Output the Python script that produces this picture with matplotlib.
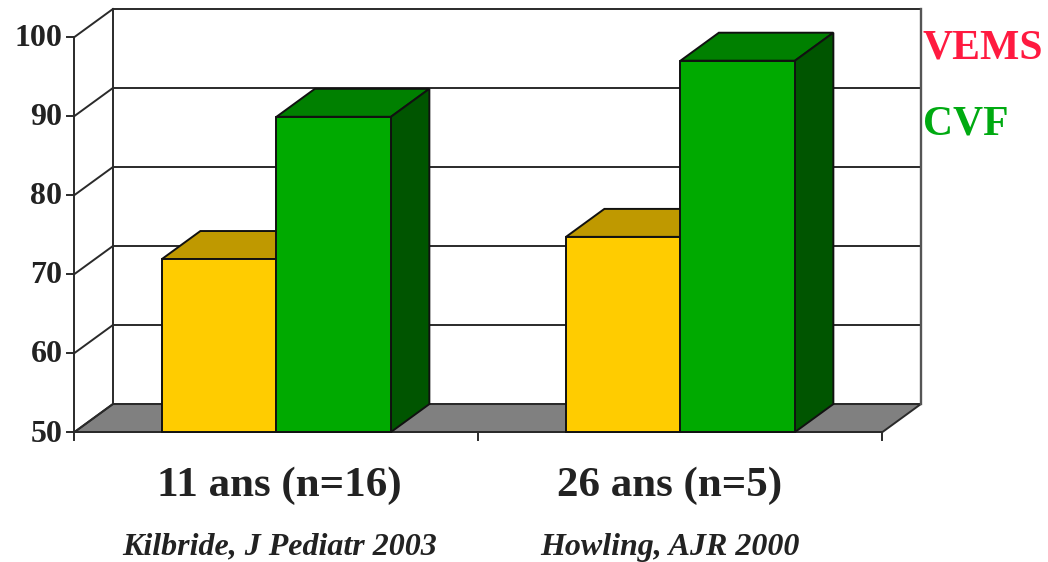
import matplotlib
matplotlib.use('Agg')
import matplotlib.pyplot as plt
from matplotlib.patches import Polygon

groups=['11 ans (n=16)','26 ans (n=5)']
refs=['Kilbride, J Pediatr 2003','Howling, AJR 2000']
vems=[71.9,74.7]
cvf=[89.9,97.0]
yticks=[50,60,70,80,90,100]
legend_names=['VEMS','CVF']

# 3d look of the old chart
DX=0.095
DY=3.54
BAR_W=0.2834
LW=1.4

plt.rcParams['font.family']=['Liberation Serif','DejaVu Serif']

fig=plt.figure(figsize=(10.48,5.62),dpi=100)
ax=fig.add_axes([0,0,1,1])
ax.set_xlim(-0.1844,2.4097)
ax.set_ylim(33.55,104.68)
ax.axis('off')

def box(x0,x1,val,front,top,side):
    ax.add_patch(Polygon([(x0,50),(x1,50),(x1,val),(x0,val)],fc=front,ec='#111111',lw=LW,zorder=5))
    ax.add_patch(Polygon([(x0,val),(x1,val),(x1+DX,val+DY),(x0+DX,val+DY)],fc=top,ec='#111111',lw=LW,zorder=4))
    ax.add_patch(Polygon([(x1,50),(x1+DX,50+DY),(x1+DX,val+DY),(x1,val)],fc=side,ec='#111111',lw=LW,zorder=4))

GRID='#2a2a2a'
# floor
ax.add_patch(Polygon([(0,50),(2,50),(2+DX,50+DY),(DX,50+DY)],fc='#808080',ec=GRID,lw=LW,zorder=1))
# back wall grid
for t in yticks:
    ax.plot([0,DX],[t,t+DY],color=GRID,lw=LW,zorder=2)
    ax.plot([DX,2+DX],[t+DY,t+DY],color=GRID,lw=LW,zorder=2)
    ax.plot([-0.018,0],[t,t],color=GRID,lw=LW,zorder=2)
    ax.text(-0.03,t-0.25,str(t),ha='right',va='center',fontsize=23,fontweight='bold',color='#222222',zorder=6)
ax.plot([0,0],[50,100],color=GRID,lw=LW,zorder=2)
ax.plot([DX,DX],[50+DY,100+DY],color=GRID,lw=LW,zorder=2)
ax.plot([2+DX,2+DX],[50+DY,100+DY],color='#555555',lw=LW+0.3,zorder=2)
# x axis ticks
ax.plot([0,2],[50,50],color=GRID,lw=LW,zorder=2)
for x in [0,1,2]:
    ax.plot([x,x],[50,49],color=GRID,lw=LW,zorder=2)

group_x=[0.507,1.473]
ref_x=[0.507,1.475]
for i in range(len(groups)):
    c=i+0.5
    box(c-BAR_W,c,vems[i],'#ffcc00','#bf9900','#bf9900')
    box(c,c+BAR_W,cvf[i],'#00aa00','#008000','#005500')
    ax.text(group_x[i],43.2,groups[i],ha='center',va='center',fontsize=31,fontweight='bold',color='#222222')
    ax.text(ref_x[i],35.4,refs[i],ha='center',va='center',fontsize=23,fontweight='bold',style='italic',color='#222222')

ax.text(2.10,98.5,legend_names[0],ha='left',va='center',fontsize=30,fontweight='bold',color='#ff1a40')
ax.text(2.10,88.9,legend_names[1],ha='left',va='center',fontsize=30,fontweight='bold',color='#00aa11')

fig.savefig('out.png',dpi=100)
